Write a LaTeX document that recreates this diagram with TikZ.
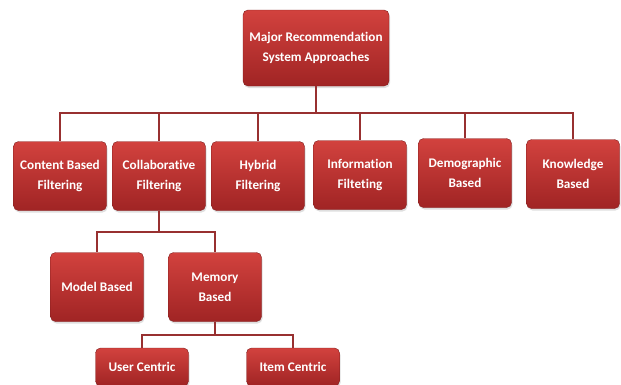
\documentclass[tikz,border=0pt]{standalone}
\usepackage{fontspec}
\setmainfont{Carlito}[Ligatures=NoCommon]
\usetikzlibrary{shadows}
\definecolor{boxtop}{RGB}{210,66,62}
\definecolor{boxbot}{RGB}{160,36,36}
\definecolor{linkred}{RGB}{152,48,48}
\begin{document}
\begin{tikzpicture}[x=1pt,y=-1pt,font=\bfseries\fontsize{13.2}{20}\selectfont,
  box/.style={draw=boxbot!80!black,line width=0.4pt,rounded corners=5pt,top color=boxtop,bottom color=boxbot,
    text=white,align=center,minimum width=93pt,minimum height=69pt,inner sep=2pt,
    drop shadow={opacity=0.25,shadow xshift=1pt,shadow yshift=-2pt}},
  link/.style={draw=linkred,line width=1.8pt}]
\useasboundingbox (0,0) rectangle (621,384);
\clip (0,0) rectangle (621,384);
\coordinate (bus) at (316,113);
\coordinate (bus2) at (159,232);
\coordinate (bus3) at (215,335);
\node[box,minimum width=146pt,minimum height=76pt] (major) at (316,48) {Major Recommendation\\System Approaches};
\node[box] (content) at (60,176) {Content Based\\Filtering};
\node[box] (collab) at (159,176) {Collaborative\\Filtering};
\node[box] (hybrid) at (258,176) {Hybrid\\Filtering};
\node[box] (info) at (360,175) {Information\\Filteting};
\node[box] (demo) at (465,173) {Demographic\\Based};
\node[box] (know) at (573,174) {Knowledge\\Based};
\node[box] (model) at (97,287) {Model Based};
\node[box] (memory) at (215,287) {Memory\\Based};
\node[box,minimum height=38pt] (user) at (142,367) {User Centric};
\node[box,minimum height=38pt] (item) at (293,367) {Item Centric};
\foreach \n in {content,collab,hybrid,info,demo,know}
  \draw[link] (major.south) |- (bus -| \n.north) -- (\n.north);
\foreach \n in {model,memory}
  \draw[link] (collab.south) |- (bus2 -| \n.north) -- (\n.north);
\foreach \n in {user,item}
  \draw[link] (memory.south) |- (bus3 -| \n.north) -- (\n.north);
\end{tikzpicture}
\end{document}
